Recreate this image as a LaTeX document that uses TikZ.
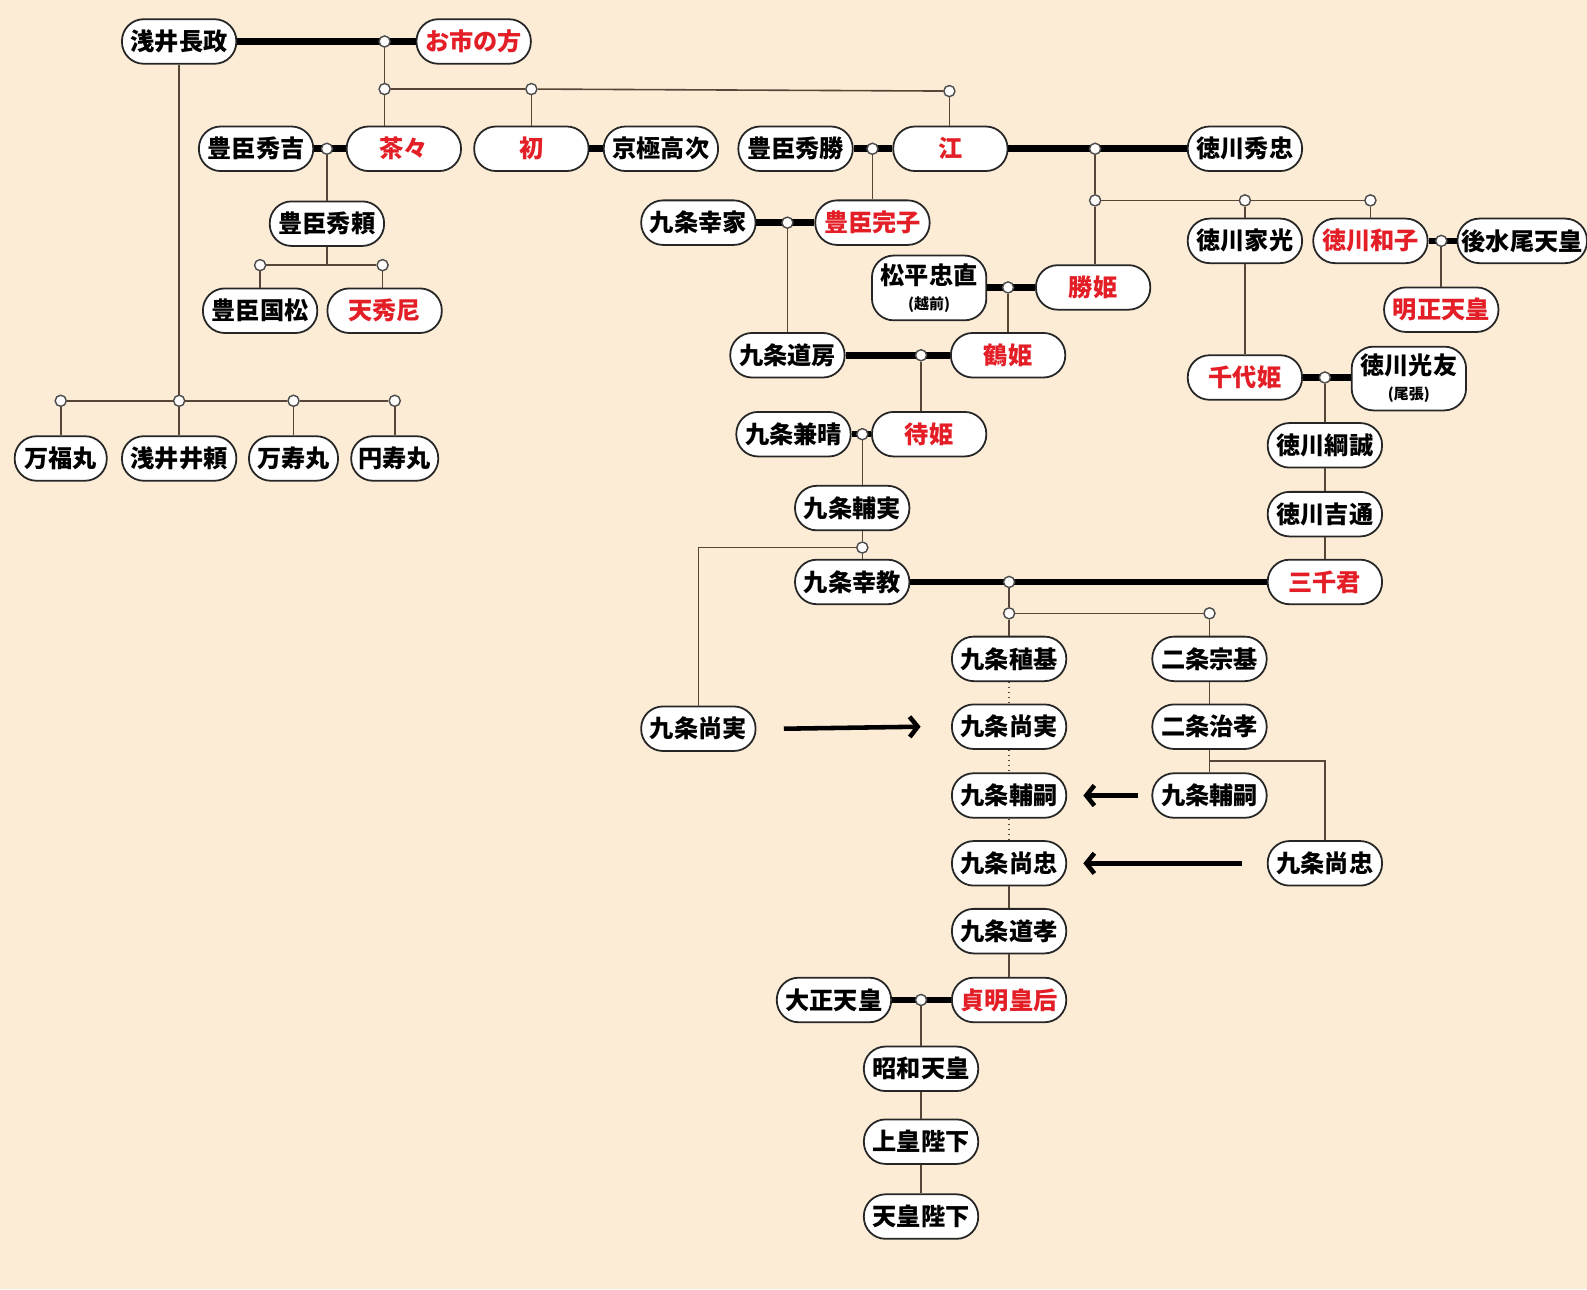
\documentclass[tikz,border=0pt]{standalone}
\usepackage{fontspec}
\setmainfont{Noto Sans CJK JP}
\usepackage{tikz}
\usetikzlibrary{calc, arrows.meta}
\definecolor{bgpeach}{RGB}{252,236,214}
\definecolor{namered}{RGB}{228,30,38}
\definecolor{linebrown}{RGB}{85,70,55}
\newcommand{\subname}[1]{{\fontsize{4.2}{5}\selectfont (#1)}}

\begin{document}
\begin{tikzpicture}[
    person/.style = {draw = black!85, line width = 0.5pt, fill = white, rounded corners = 0.215cm, minimum width = 1.13cm, minimum height = 0.44cm, inner sep = 0pt, align = center, font = \bfseries\fontsize{6.8}{8}\selectfont},
    wife/.style = {person, text = namered},
    marriage/.style = {black, line width = 0.065cm},
    descent/.style = {linebrown, line width = 0.45pt},
    adopted/.style = {linebrown, line width = 0.4pt, densely dotted},
    joint/.style = {circle, draw = black!70, fill = white!92!bgpeach, line width = 0.4pt, inner sep = 0pt, minimum size = 0.11cm},
    handover/.style = {black, line width = 0.045cm, -{Straight Barb[length = 0.08cm, width = 0.2cm]}}
]
    \fill[bgpeach] (0, 0) rectangle (15.68, -12.74);
    \useasboundingbox (0, 0) rectangle (15.68, -12.74);

    \node[person] (nagamasa) at (1.77, -0.41) {浅井長政};
    \node[wife] (oichi) at (4.68, -0.41) {お市の方};
    \node[person] (hideyoshi) at (2.53, -1.47) {豊臣秀吉};
    \node[wife] (chacha) at (3.99, -1.47) {茶々};
    \node[wife] (hatsu) at (5.25, -1.47) {初};
    \node[person] (takatsugu) at (6.53, -1.47) {京極高次};
    \node[person] (hidekatsu) at (7.86, -1.47) {豊臣秀勝};
    \node[wife] (go) at (9.39, -1.47) {江};
    \node[person] (hidetada) at (12.30, -1.47) {徳川秀忠};
    \node[person] (hideyori) at (3.23, -2.21) {豊臣秀頼};
    \node[person] (kunimatsu) at (2.57, -3.07) {豊臣国松};
    \node[wife] (tenshuni) at (3.80, -3.07) {天秀尼};
    \node[person, minimum width = 0.91cm] (manpuku) at (0.60, -4.53) {万福丸};
    \node[person] (iyori) at (1.77, -4.53) {浅井井頼};
    \node[person, minimum width = 0.88cm] (manju) at (2.90, -4.53) {万寿丸};
    \node[person, minimum width = 0.86cm] (enju) at (3.90, -4.53) {円寿丸};

    \node[person] (yukiie) at (6.90, -2.20) {九条幸家};
    \node[wife] (sadako) at (8.62, -2.20) {豊臣完子};
    \node[person, minimum height = 0.64cm] (tadanao) at (9.18, -2.845) {松平忠直\\[-1pt]\subname{越前}};
    \node[wife] (katsu) at (10.80, -2.84) {勝姫};
    \node[person] (michifusa) at (7.78, -3.51) {九条道房};
    \node[wife] (tsuru) at (9.96, -3.51) {鶴姫};
    \node[person] (kaneharu) at (7.84, -4.29) {九条兼晴};
    \node[wife] (machi) at (9.18, -4.29) {待姫};
    \node[person] (sukezane) at (8.42, -5.02) {九条輔実};
    \node[person] (yoshinori) at (8.42, -5.75) {九条幸教};
    \node[wife] (michigimi) at (13.09, -5.75) {三千君};
    \node[person] (hisazane_l) at (6.90, -7.20) {九条尚実};

    \node[person] (tanemoto) at (9.97, -6.51) {九条稙基};
    \node[person] (hisazane) at (9.97, -7.18) {九条尚実};
    \node[person] (sukesugu) at (9.97, -7.86) {九条輔嗣};
    \node[person] (hisatada) at (9.97, -8.53) {九条尚忠};
    \node[person] (michitaka) at (9.97, -9.20) {九条道孝};
    \node[wife] (teimei) at (9.97, -9.88) {貞明皇后};
    \node[person] (munemoto) at (11.95, -6.51) {二条宗基};
    \node[person] (harutaka) at (11.95, -7.18) {二条治孝};
    \node[person] (sukesugu_n) at (11.95, -7.86) {九条輔嗣};
    \node[person] (hisatada_n) at (13.09, -8.53) {九条尚忠};
    \node[person] (taisho) at (8.24, -9.88) {大正天皇};
    \node[person] (showa) at (9.10, -10.56) {昭和天皇};
    \node[person] (joko) at (9.10, -11.28) {上皇陛下};
    \node[person] (tenno) at (9.10, -12.02) {天皇陛下};

    \node[person] (iemitsu) at (12.30, -2.38) {徳川家光};
    \node[wife] (kazuko) at (13.54, -2.38) {徳川和子};
    \node[person, minimum width = 1.28cm] (gomizunoo) at (15.04, -2.38) {後水尾天皇};
    \node[wife] (meisho) at (14.24, -3.06) {明正天皇};
    \node[wife] (chiyo) at (12.30, -3.73) {千代姫};
    \node[person, minimum height = 0.63cm] (mitsutomo) at (13.92, -3.74) {徳川光友\\[-1pt]\subname{尾張}};
    \node[person] (tsunanari) at (13.09, -4.40) {徳川綱誠};
    \node[person] (yoshimichi) at (13.09, -5.08) {徳川吉通};

    \draw[marriage] (nagamasa.east) -- (oichi.west);
    \draw[marriage] (hideyoshi.east) -- (chacha.west);
    \draw[marriage] (hatsu.east) -- (takatsugu.west);
    \draw[marriage] (hidekatsu.east) -- (go.west);
    \draw[marriage] (go.east) -- (hidetada.west);
    \draw[marriage] (yukiie.east) -- (sadako.west);
    \draw[marriage] (tadanao.east |- katsu) -- (katsu.west);
    \draw[marriage] (michifusa.east) -- (tsuru.west);
    \draw[marriage] (kaneharu.east) -- (machi.west);
    \draw[marriage] (yoshinori.east) -- (michigimi.west);
    \draw[marriage] (kazuko.east) -- (gomizunoo.west);
    \draw[marriage] (chiyo.east) -- (mitsutomo.west |- chiyo);
    \draw[marriage] (taisho.east) -- (teimei.west);

    \node[joint] (j_nagamasa) at (3.80, -0.41) {};
    \node[joint] (b_chacha) at (3.80, -0.88) {};
    \node[joint] (b_hatsu) at (5.25, -0.88) {};
    \node[joint] (b_go) at (9.38, -0.90) {};
    \node[joint] (j_hideyoshi) at (3.23, -1.47) {};
    \node[joint] (b_kunimatsu) at (2.57, -2.62) {};
    \node[joint] (b_tenshuni) at (3.78, -2.62) {};
    \node[joint] (b_manpuku) at (0.60, -3.96) {};
    \node[joint] (b_iyori) at (1.77, -3.96) {};
    \node[joint] (b_manju) at (2.90, -3.96) {};
    \node[joint] (b_enju) at (3.90, -3.96) {};
    \node[joint] (j_hidekatsu) at (8.62, -1.47) {};
    \node[joint] (j_hidetada) at (10.82, -1.47) {};
    \node[joint] (b_katsu) at (10.82, -1.98) {};
    \node[joint] (b_iemitsu) at (12.30, -1.98) {};
    \node[joint] (b_kazuko) at (13.54, -1.98) {};
    \node[joint] (j_kazuko) at (14.24, -2.38) {};
    \node[joint] (j_yukiie) at (7.78, -2.20) {};
    \node[joint] (j_tadanao) at (9.96, -2.84) {};
    \node[joint] (j_michifusa) at (9.10, -3.51) {};
    \node[joint] (j_kaneharu) at (8.52, -4.29) {};
    \node[joint] (b_yoshinori) at (8.52, -5.41) {};
    \node[joint] (j_chiyo) at (13.09, -3.73) {};
    \node[joint] (j_yoshinori) at (9.97, -5.75) {};
    \node[joint] (b_tanemoto) at (9.97, -6.06) {};
    \node[joint] (b_munemoto) at (11.95, -6.06) {};
    \node[joint] (j_taisho) at (9.10, -9.88) {};

    \draw[descent] (j_nagamasa) -- (b_chacha);
    \draw[descent] (b_chacha) -- (b_hatsu);
    \draw[descent] (b_hatsu) -- (b_go);
    \draw[descent] (b_chacha) -- (b_chacha |- chacha.north);
    \draw[descent] (b_hatsu) -- (hatsu);
    \draw[descent] (b_go) -- (b_go |- go.north);
    \draw[descent] (j_hideyoshi) -- (hideyori);
    \draw[descent] (hideyori.south) -- ($(b_kunimatsu)!(hideyori.south)!(b_tenshuni)$);
    \draw[descent] (b_kunimatsu) -- (b_tenshuni);
    \draw[descent] (b_kunimatsu) -- (b_kunimatsu |- kunimatsu.north);
    \draw[descent] (b_tenshuni) -- (b_tenshuni |- tenshuni.north);
    \draw[descent] (nagamasa) -- (b_iyori);
    \draw[descent] (b_manpuku) -- (b_iyori) -- (b_manju) -- (b_enju);
    \draw[descent] (b_manpuku) -- (manpuku);
    \draw[descent] (b_iyori) -- (iyori);
    \draw[descent] (b_manju) -- (manju);
    \draw[descent] (b_enju) -- (enju);

    \draw[descent] (j_hidekatsu) -- (sadako);
    \draw[descent] (j_hidetada) -- (b_katsu);
    \draw[descent] (b_katsu) -- (b_iemitsu) -- (b_kazuko);
    \draw[descent] (b_katsu) -- (b_katsu |- katsu.north);
    \draw[descent] (b_iemitsu) -- (iemitsu);
    \draw[descent] (b_kazuko) -- (kazuko);
    \draw[descent] (j_kazuko) -- (meisho);
    \draw[descent] (iemitsu) -- (chiyo);
    \draw[descent] (j_chiyo) -- (tsunanari);
    \draw[descent] (tsunanari) -- (yoshimichi);
    \draw[descent] (yoshimichi) -- (michigimi);

    \draw[descent] (j_yukiie) -- (michifusa);
    \draw[descent] (j_tadanao) -- (tsuru);
    \draw[descent] (j_michifusa) -- (j_michifusa |- machi.north);
    \draw[descent] (j_kaneharu) -- (j_kaneharu |- sukezane.north);
    \draw[descent] (j_kaneharu |- sukezane.south) -- (b_yoshinori);
    \draw[descent] (b_yoshinori) -- (b_yoshinori |- yoshinori.north);
    \draw[descent] (b_yoshinori) -| (hisazane_l);

    \draw[descent] (j_yoshinori) -- (b_tanemoto);
    \draw[descent] (b_tanemoto) -- (b_munemoto);
    \draw[descent] (b_tanemoto) -- (tanemoto);
    \draw[descent] (b_munemoto) -- (munemoto);
    \draw[adopted] (tanemoto) -- (hisazane);
    \draw[adopted] (hisazane) -- (sukesugu);
    \draw[adopted] (sukesugu) -- (hisatada);
    \draw[descent] (hisatada) -- (michitaka);
    \draw[descent] (michitaka) -- (teimei);
    \draw[descent] (munemoto) -- (harutaka);
    \draw[descent] (harutaka) -- (sukesugu_n);
    \coordinate (fork_harutaka) at ($(harutaka.south)!0.5!(sukesugu_n.north)$);
    \draw[descent] (fork_harutaka) -| (hisatada_n);

    \draw[descent] (j_taisho) -- (showa);
    \draw[descent] (showa) -- (joko);
    \draw[descent] (joko) -- (tenno);

    \draw[handover] ([xshift = 0.27cm]hisazane_l.east) -- ([xshift = -0.30cm]hisazane.west);
    \draw[handover] ([xshift = -0.13cm]sukesugu_n.west) -- ([xshift = 0.16cm]sukesugu.east);
    \draw[handover] ([xshift = -0.25cm]hisatada_n.west) -- ([xshift = 0.16cm]hisatada.east);
\end{tikzpicture}
\end{document}
